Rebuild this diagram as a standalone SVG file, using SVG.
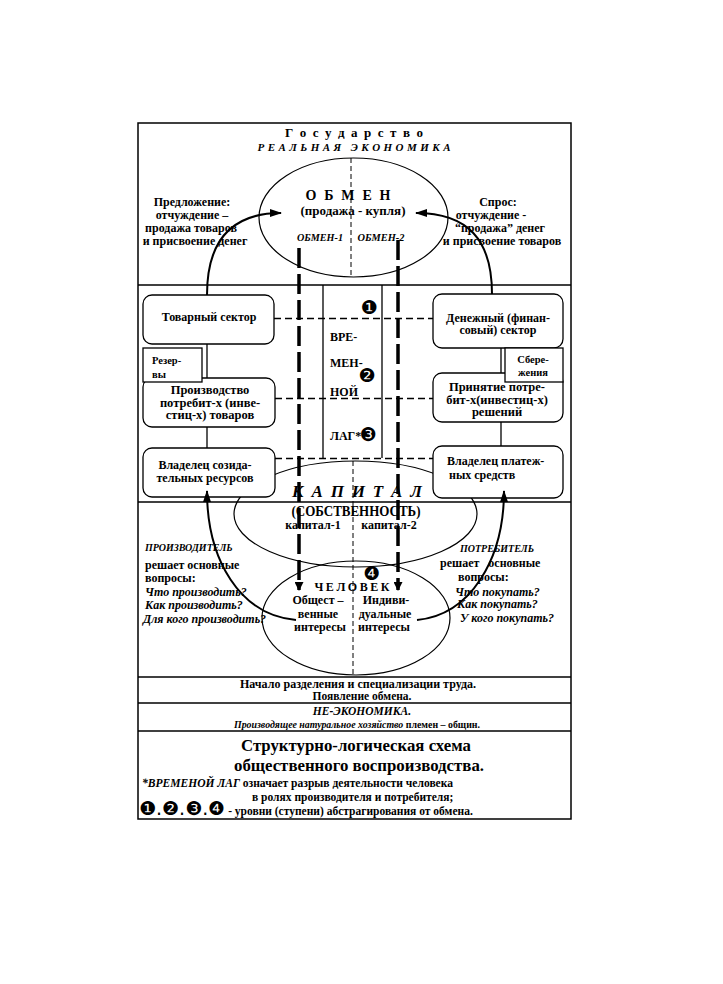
<svg xmlns="http://www.w3.org/2000/svg" width="723" height="984" viewBox="0 0 723 984">
<style>
text{font-family:"Liberation Serif","Times New Roman",serif;font-weight:bold;fill:#000}
.c{text-anchor:middle}
.i{font-style:italic}
.s12{font-size:12px}
.s13{font-size:12.5px}
.s14{font-size:14px}
.s10{font-size:10.5px}
.dg{font-family:"DejaVu Sans",sans-serif;font-weight:normal;font-size:19px}
.box{fill:#fff;stroke:#000;stroke-width:1.3}
.ell{fill:none;stroke:#000;stroke-width:1.2}
.frame{fill:none;stroke:#000;stroke-width:1.5}
.thin{stroke:#000;stroke-width:1.3;fill:none}
.dash{stroke:#000;stroke-width:1.3;stroke-dasharray:7 4;fill:none}
.cdash{stroke:#000;stroke-width:1;stroke-dasharray:5 3;fill:none}
.thick{stroke:#000;stroke-width:3.5;stroke-dasharray:20 6;fill:none}
.curve{stroke:#000;stroke-width:2;fill:none}
</style>
<defs>
<marker id="ah" viewBox="0 0 12 8" refX="11" refY="4" markerWidth="12" markerHeight="8" markerUnits="userSpaceOnUse" orient="auto"><path d="M0,0 L12,4 L0,8 z" fill="#000"/></marker>
<marker id="ah2" viewBox="0 0 9 9" refX="8" refY="4.5" markerWidth="9" markerHeight="9" markerUnits="userSpaceOnUse" orient="auto"><path d="M0,0 L9,4.5 L0,9 z" fill="#000"/></marker>
</defs>
<rect width="723" height="984" fill="#fff"/>

<g id="frame">
<rect class="frame" x="138" y="123" width="433" height="696"/>
<line class="thin" x1="138" y1="285" x2="571" y2="285"/>
<line class="thin" x1="138" y1="502" x2="571" y2="502"/>
<line class="thin" x1="138" y1="677" x2="571" y2="677"/>
<line class="thin" x1="138" y1="703" x2="571" y2="703"/>
<line class="thin" x1="138" y1="731" x2="571" y2="731"/>
</g>

<g id="title">
<text class="c" x="354" y="137" font-size="13" textLength="138" lengthAdjust="spacing">Г о с у д а р с т в о</text>
<text class="c i" x="354" y="151" font-size="11" textLength="193" lengthAdjust="spacing" xml:space="preserve">Р Е А Л Ь Н А Я   Э К О Н О М И К А</text>
</g>

<g id="obmen">
<ellipse class="ell" cx="353.5" cy="217.5" rx="94.5" ry="59.5"/>
<line class="cdash" x1="351" y1="158" x2="351" y2="277"/>
<text class="c s14" x="348" y="200" textLength="85" lengthAdjust="spacing">О Б М Е Н</text>
<text class="c" x="353" y="215" font-size="13" textLength="105" lengthAdjust="spacingAndGlyphs">(продажа - купля)</text>
<text class="c i" x="320" y="241" font-size="11" textLength="46" lengthAdjust="spacingAndGlyphs">ОБМЕН-1</text>
<text class="c i" x="381" y="241" font-size="11" textLength="47" lengthAdjust="spacingAndGlyphs">ОБМЕН-2</text>
</g>

<g id="supply">
<text class="c s12" x="192" y="206">Предложение:</text>
<text class="c s12" x="192" y="219">отчуждение –</text>
<text class="c s12" x="191" y="232">продажа товаров</text>
<text class="c s12" x="195" y="245">и присвоение денег</text>
</g>
<g id="demand">
<text class="c s12" x="498" y="206">Спрос:</text>
<text class="c s12" x="491" y="219">отчуждение -</text>
<text class="c s12" x="500" y="232">“продажа” денег</text>
<text class="c s12" x="502" y="245">и присвоение товаров</text>
</g>

<g id="kapital">
<ellipse class="ell" cx="355.5" cy="514" rx="121.5" ry="53"/>
</g>
<g id="chelovek">
<ellipse class="ell" cx="356" cy="618" rx="94" ry="57"/>
</g>
<line class="cdash" x1="353" y1="461" x2="353" y2="675"/>

<g id="lag">
<line class="thin" x1="323" y1="285" x2="323" y2="458"/>
<line class="thin" x1="382" y1="285" x2="382" y2="458"/>
<text class="s12" x="330" y="341">ВРЕ-</text>
<text class="s12" x="330" y="367">МЕН-</text>
<text class="s12" x="330" y="396">НОЙ</text>
<text class="s12" x="330" y="440">ЛАГ*</text>
<text class="dg c" x="369" y="314">❶</text>
<text class="dg c" x="367" y="382">❷</text>
<text class="dg c" x="368" y="441">❸</text>
</g>

<g id="tovarny">
<rect class="box" x="143" y="295" width="131" height="49" rx="9"/>
<text class="c s12" x="209" y="321">Товарный сектор</text>
</g>
<g id="proizvodstvo">
<rect class="box" x="143" y="378" width="132" height="49" rx="9"/>
<text class="c s13" x="210" y="394">Производство</text>
<text class="c s13" x="210" y="406.5">потребит-х (инве-</text>
<text class="c s13" x="210" y="419">стиц-х)  товаров</text>
</g>
<g id="rezervy">
<rect class="box" x="143" y="348" width="59" height="34"/>
<text class="s10" x="152" y="364">Резер-</text>
<text class="s10" x="152" y="378">вы</text>
</g>
<g id="vladelec1">
<rect class="box" x="143" y="448" width="132" height="49" rx="9"/>
<text class="c s12" x="205" y="469">Владелец созида-</text>
<text class="c s12" x="205" y="482">тельных ресурсов</text>
</g>
<g id="denezhny">
<rect class="box" x="433" y="294" width="130" height="54" rx="9"/>
<text class="c s12" x="498" y="322">Денежный (финан-</text>
<text class="c s12" x="498" y="334">совый) сектор</text>
</g>
<g id="prinyatie">
<rect class="box" x="433" y="373" width="130" height="49" rx="9"/>
<text class="c s13" x="497" y="391">Принятие потре-</text>
<text class="c s13" x="497" y="403.5">бит-х(инвестиц-х)</text>
<text class="c s13" x="497" y="416">решений</text>
</g>
<g id="sberezhenia">
<rect class="box" x="505" y="348" width="58" height="34"/>
<text class="c s10" x="533" y="363">Сбере-</text>
<text class="c s10" x="533" y="376">жения</text>
</g>
<g id="vladelec2">
<rect class="box" x="433" y="446" width="130" height="52" rx="9"/>
<text class="s12" x="447" y="465">Владелец платеж-</text>
<text class="s12" x="449" y="479">ных средств</text>
</g>

<g id="kapital-text">
<text class="c i" x="357" y="497" font-size="17" textLength="130" lengthAdjust="spacing">К А П И Т А Л</text>
<text class="c" x="356" y="516" font-size="14.5" textLength="129" lengthAdjust="spacingAndGlyphs">(СОБСТВЕННОСТЬ)</text>
<text class="c s12" x="313" y="529">капитал-1</text>
<text class="c s12" x="389" y="529">капитал-2</text>
</g>

<g id="chelovek-text">
<text class="c s12" x="352" y="591" textLength="75" lengthAdjust="spacing">Ч Е Л О В Е К</text>
<text class="dg c" x="372" y="580">❹</text>
<text class="c s12" x="318" y="604">Общест –</text>
<text class="c s12" x="318" y="618">венные</text>
<text class="c s12" x="320" y="631">интересы</text>
<text class="c s12" x="386" y="604">Индиви-</text>
<text class="c s12" x="385" y="618">дуальные</text>
<text class="c s12" x="384" y="631">интересы</text>
</g>

<g id="producer">
<text class="i" x="145" y="551" font-size="10">ПРОИЗВОДИТЕЛЬ</text>
<text class="s12" x="145" y="569">решает основные</text>
<text class="s12" x="145" y="582">вопросы:</text>
<text class="i s12" x="145" y="596">Что производить?</text>
<text class="i s12" x="145" y="609">Как производить?</text>
<text class="i s12" x="143" y="623">Для кого производить?</text>
</g>
<g id="consumer">
<text class="i" x="460" y="552" font-size="10">ПОТРЕБИТЕЛЬ</text>
<text class="s12" x="440" y="567" xml:space="preserve">решает   основные</text>
<text class="s12" x="458" y="581">вопросы:</text>
<text class="i s12" x="455" y="596">Что покупать?</text>
<text class="i s12" x="457" y="608">Как покупать?</text>
<text class="i s12" x="460" y="622">У кого покупать?</text>
</g>

<g id="connectors">
<line class="thin" x1="207" y1="344" x2="207" y2="378"/>
<line class="thin" x1="207" y1="427" x2="207" y2="448"/>
<line class="thin" x1="501" y1="348" x2="501" y2="373"/>
<line class="thin" x1="501" y1="422" x2="501" y2="446"/>
<line class="dash" x1="274" y1="318.5" x2="433" y2="318.5"/>
<line class="dash" x1="275" y1="398.5" x2="433" y2="398.5"/>
<line class="dash" x1="275" y1="458.5" x2="433" y2="458.5"/>
<path class="thick" d="M299,248 L299,590" marker-end="url(#ah2)"/>
<path class="thick" d="M398,240 L398,590" marker-end="url(#ah2)"/>
<path class="curve" d="M207,295 C207,240 232,213 281,213" marker-end="url(#ah)"/>
<path class="curve" d="M492,294 C492,240 468,213 416,213" marker-end="url(#ah)"/>
<path class="curve" d="M296,620 C240,615 207,560 207,491" marker-end="url(#ah)"/>
<path class="curve" d="M417,620 C470,615 504,560 504,491" marker-end="url(#ah)"/>
</g>

<g id="footer">
<text class="c" x="358" y="688" font-size="11.5" textLength="236" lengthAdjust="spacingAndGlyphs">Начало разделения и специализации труда.</text>
<text class="c" x="362" y="700" font-size="11.5">Появление обмена.</text>
<text class="c i" x="362" y="715" font-size="11.5">НЕ-ЭКОНОМИКА.</text>
<text x="357" y="728" class="c" font-size="10.5" textLength="246" lengthAdjust="spacingAndGlyphs"><tspan class="i">Производящее натуральное хозяйство</tspan> племен – общин.</text>
<text class="c" x="356" y="751" font-size="17" textLength="230" lengthAdjust="spacingAndGlyphs">Структурно-логическая схема</text>
<text class="c" x="359" y="771" font-size="17" textLength="250" lengthAdjust="spacingAndGlyphs">общественного воспроизводства.</text>
<text x="142" y="787" font-size="11.5" textLength="311" lengthAdjust="spacingAndGlyphs"><tspan class="i">*ВРЕМЕНОЙ ЛАГ</tspan> означает разрыв деятельности человека</text>
<text x="252" y="801" font-size="11.5">в ролях производителя и потребителя;</text>
<text x="139" y="815" font-size="11.5"><tspan class="dg" font-size="14">❶.❷.❸.❹</tspan> - уровни (ступени) абстрагирования от обмена.</text>
</g>
</svg>
